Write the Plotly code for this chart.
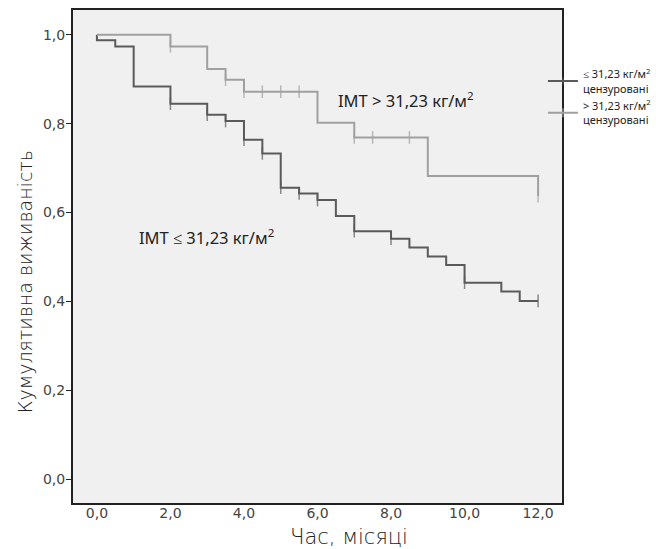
import plotly.graph_objects as go

# Group IMT <= 31,23
t_low = [0, 0, 0.5, 1, 2, 3, 3.5, 4, 4.5, 5, 5.5, 6, 6.5, 7, 8, 8.5, 9, 9.5, 10, 11, 11.5, 12]
s_low = [1.0, 0.988, 0.974, 0.884, 0.845, 0.820, 0.806, 0.764, 0.733, 0.656, 0.643, 0.628,
         0.592, 0.558, 0.541, 0.521, 0.501, 0.482, 0.442, 0.422, 0.401, 0.401]
c_low = [0, 0, 0, 0, 1, 1, 1, 1, 1, 1, 1, 1, 0, 1, 1, 0, 0, 0, 1, 0, 0, 1]

# Group IMT > 31,23
t_high = [0, 2, 3, 3.5, 4, 4.5, 5, 5.5, 6, 7, 7.5, 8.5, 9, 12]
s_high = [1.0, 0.974, 0.923, 0.899, 0.872, 0.872, 0.872, 0.872, 0.802, 0.769, 0.769, 0.769, 0.682, 0.637]
c_high = [0, 1, 0, 1, 1, 1, 1, 1, 0, 1, 1, 1, 0, 1]

x_ticks = [0, 2, 4, 6, 8, 10, 12]
x_labels = ["0,0", "2,0", "4,0", "6,0", "8,0", "10,0", "12,0"]
y_ticks = [0, 0.2, 0.4, 0.6, 0.8, 1.0]
y_labels = ["0,0", "0,2", "0,4", "0,6", "0,8", "1,0"]

name_low = "≤ 31,23 кг/м<sup>2</sup><br>цензуровані"
name_high = "> 31,23 кг/м<sup>2</sup><br>цензуровані"
label_low = "IMT ≤ 31,23 кг/м<sup>2</sup>"
label_high = "IMT > 31,23 кг/м<sup>2</sup>"
x_title = "Час, місяці"
y_title = "Кумулятивна виживаність"

dark = "#5a5a5a"
light = "#a0a0a0"

fig = go.Figure()
for t, s, c, col, nm in [(t_low, s_low, c_low, dark, name_low),
                         (t_high, s_high, c_high, light, name_high)]:
    fig.add_trace(go.Scatter(
        x=t, y=s, mode="lines+markers", name=nm,
        line=dict(color=col, width=2, shape="hv"),
        marker=dict(symbol="line-ns", size=[9 if ci else 0 for ci in c],
                    color=col, line=dict(color=col, width=1.5)),
        hoverinfo="skip",
    ))

fig.add_annotation(x=2.985, y=0.546, text=label_low, showarrow=False,
                   font=dict(family="Noto Sans", size=16.5, color="#222"))
fig.add_annotation(x=8.40, y=0.854, text=label_high, showarrow=False,
                   font=dict(family="Noto Sans", size=16.5, color="#222"))

# axis titles placed like the reference (offset from the axis centre)
fig.add_annotation(xref="paper", yref="paper", x=-0.098, y=0.448, text=y_title,
                   textangle=-90, showarrow=False, xanchor="center", yanchor="middle",
                   font=dict(family="DejaVu Sans", size=19, color="#222", weight=200))
fig.add_annotation(xref="paper", yref="paper", x=0.564, y=-0.069, text=x_title,
                   showarrow=False, xanchor="center", yanchor="middle",
                   font=dict(family="DejaVu Sans", size=21, color="#222", weight=200))

fig.update_layout(
    width=656, height=549,
    margin=dict(l=73, r=94, t=10, b=46, autoexpand=False),
    paper_bgcolor="white", plot_bgcolor="#f0f0f0",
    showlegend=True,
    legend=dict(x=0.961, y=0.898, xanchor="left", yanchor="top",
                bgcolor="rgba(0,0,0,0)",
                font=dict(family="Noto Sans", size=11, color="#222"),
                tracegroupgap=0),
    font=dict(family="DejaVu Sans", color="#333"),
)
fig.update_xaxes(range=[-0.65, 12.65], tickvals=x_ticks, ticktext=x_labels,
                 showgrid=False, zeroline=False, showline=True, mirror=True,
                 linecolor="#222", linewidth=2, ticks="", ticklabelstandoff=-4,
                 tickfont=dict(family="DejaVu Sans", size=14, color="#444"))
fig.update_yaxes(range=[-0.054, 1.056], tickvals=y_ticks, ticktext=y_labels,
                 showgrid=False, zeroline=False, showline=True, mirror=True,
                 linecolor="#222", linewidth=2, ticks="outside", ticklen=5,
                 tickcolor="#222", tickwidth=1, ticklabelstandoff=-2,
                 tickfont=dict(family="DejaVu Sans", size=14, color="#444"))

fig.write_html("out.html")
